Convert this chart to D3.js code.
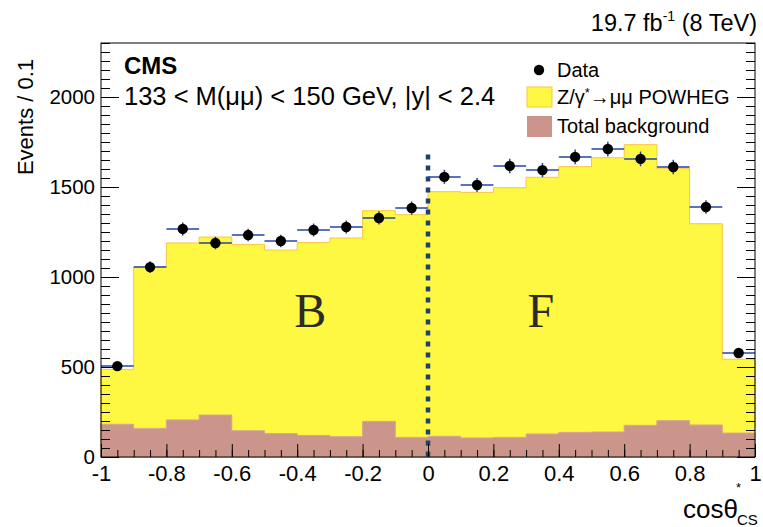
<!DOCTYPE html>
<html>
<head>
<meta charset="utf-8">
<script src="https://cdn.jsdelivr.net/npm/d3@7"></script>
<style>
    body { margin: 0; background: #fff; }
    text { font-family: "Liberation Sans", Arial, sans-serif; fill: #000; }
</style>
</head>
<body>
<div id="chart"></div>
<script>
// bin edges of cos theta*_CS, 20 bins of 0.1
var binLow = [-1, -0.9, -0.8, -0.7, -0.6, -0.5, -0.4, -0.3, -0.2, -0.1,
              0, 0.1, 0.2, 0.3, 0.4, 0.5, 0.6, 0.7, 0.8, 0.9];
var binWidth = 0.1;

// data points and their stat errors
var dataVals = [505, 1055, 1267, 1189, 1233, 1200, 1261, 1278, 1328, 1383,
                1556, 1511, 1617, 1594, 1667, 1711, 1656, 1611, 1389, 578];
var dataErr  = [23, 33, 36, 35, 35, 35, 36, 36, 37, 37,
                39, 39, 40, 40, 41, 41, 41, 40, 37, 24];

// stacked MC: Z/gamma* -> mumu on top of total background
var stackTop = [487, 1055, 1189, 1222, 1181, 1150, 1191, 1217, 1368, 1346,
                1474, 1470, 1496, 1554, 1613, 1663, 1735, 1604, 1296, 543];
var bkgVals  = [182, 159, 206, 233, 146, 130, 120, 113, 198, 109,
                115, 106, 109, 128, 137, 139, 176, 202, 178, 133];

var xTicks = [-1, -0.8, -0.6, -0.4, -0.2, 0, 0.2, 0.4, 0.6, 0.8, 1];
var yTicks = [0, 500, 1000, 1500, 2000];

var W = 763, H = 527;
var margin = {top: 43, right: 8, bottom: 70, left: 101};
var width = W - margin.left - margin.right,
    height = H - margin.top - margin.bottom;

var x = d3.scaleLinear().domain([-1, 1]).range([0, width]);
var y = d3.scaleLinear().domain([0, 2300]).range([height, 0]);

var svg = d3.select("#chart").append("svg")
    .attr("width", W).attr("height", H);
var g = svg.append("g")
    .attr("transform", "translate(" + margin.left + "," + margin.top + ")");

// step path for a histogram
function stepPath(vals) {
    var p = d3.path();
    p.moveTo(x(binLow[0]), y(0));
    vals.forEach(function(v, i) {
        p.lineTo(x(binLow[i]), y(v));
        p.lineTo(x(binLow[i] + binWidth), y(v));
    });
    p.lineTo(x(binLow[binLow.length - 1] + binWidth), y(0));
    p.closePath();
    return p.toString();
}

g.append("path").attr("d", stepPath(stackTop))
    .attr("fill", "#fff842").attr("stroke", "#f7c640").attr("stroke-width", 1);
g.append("path").attr("d", stepPath(bkgVals))
    .attr("fill", "#cc958c").attr("stroke", "#d7a590").attr("stroke-width", 1);

// B / F labels
g.append("text").attr("x", x(-0.36)).attr("y", y(720))
    .attr("text-anchor", "middle").style("font-family", "'Liberation Serif', serif")
    .style("font-size", "48px").style("fill", "#2b2b2b").text("B");
g.append("text").attr("x", x(0.345)).attr("y", y(720))
    .attr("text-anchor", "middle").style("font-family", "'Liberation Serif', serif")
    .style("font-size", "48px").style("fill", "#2b2b2b").text("F");

// dotted separator at 0
g.append("line").attr("x1", x(0)).attr("x2", x(0))
    .attr("y1", y(1680)).attr("y2", y(0))
    .attr("stroke", "#1d426f").attr("stroke-width", 4.5)
    .attr("stroke-dasharray", "5,6");

// data: horizontal bin-width bars, vertical stat errors, markers
var pts = g.selectAll(".pt").data(dataVals).enter().append("g").attr("class", "pt");
pts.append("line")
    .attr("x1", function(d, i) { return x(binLow[i]); })
    .attr("x2", function(d, i) { return x(binLow[i] + binWidth); })
    .attr("y1", function(d) { return y(d); })
    .attr("y2", function(d) { return y(d); })
    .attr("stroke", "#2244aa").attr("stroke-width", 1.5);
pts.append("line")
    .attr("x1", function(d, i) { return x(binLow[i] + binWidth / 2); })
    .attr("x2", function(d, i) { return x(binLow[i] + binWidth / 2); })
    .attr("y1", function(d, i) { return y(d - dataErr[i]); })
    .attr("y2", function(d, i) { return y(d + dataErr[i]); })
    .attr("stroke", "#2244aa").attr("stroke-width", 1.5);
pts.append("circle")
    .attr("cx", function(d, i) { return x(binLow[i] + binWidth / 2); })
    .attr("cy", function(d) { return y(d); })
    .attr("r", 5.2).attr("fill", "#000");

// axes
function styleAxis(size) {
    return function(sel) {
        sel.select(".domain").remove();
        sel.selectAll("line").attr("stroke", "#000");
        sel.selectAll("text").style("font-size", size)
            .style("font-family", "'Liberation Sans', Arial, sans-serif");
    };
}
// plain hyphen minus like ROOT
var fmtX = function(d) { return String(+d.toFixed(1)); };

g.append("g").attr("transform", "translate(0," + height + ")")
    .call(d3.axisBottom(x).tickValues(d3.range(-1, 1.0001, 0.05)).tickSize(-7).tickFormat(""))
    .call(styleAxis("20px"));
g.append("g").attr("transform", "translate(0," + height + ")")
    .call(d3.axisBottom(x).tickValues(xTicks).tickSize(-13).tickPadding(8).tickFormat(fmtX))
    .call(styleAxis("22px"));

g.append("g")
    .call(d3.axisLeft(y).tickValues(d3.range(0, 2301, 50)).tickSize(-9).tickFormat(""))
    .call(styleAxis("20px"));
g.append("g")
    .call(d3.axisLeft(y).tickValues(yTicks).tickSize(-18).tickPadding(6).tickFormat(d3.format("d")))
    .call(styleAxis("20.5px"));
g.append("g").attr("transform", "translate(" + width + ",0)")
    .call(d3.axisRight(y).tickValues(d3.range(0, 2301, 50)).tickSize(-9).tickFormat(""))
    .call(styleAxis("20px"));
g.append("g").attr("transform", "translate(" + width + ",0)")
    .call(d3.axisRight(y).tickValues(yTicks).tickSize(-18).tickFormat(""))
    .call(styleAxis("20px"));

// frame
g.append("rect").attr("width", width).attr("height", height)
    .attr("fill", "none").attr("stroke", "#000").attr("stroke-width", 1);

// axis titles
svg.append("text").attr("transform", "translate(33,117) rotate(-90)")
    .attr("text-anchor", "middle").style("font-size", "22px").text("Events / 0.1");
svg.append("text").attr("x", 683).attr("y", 518)
    .style("font-size", "26px").text("cos\u03b8");
svg.append("text").attr("x", 736).attr("y", 492)
    .style("font-size", "13px").text("*");
svg.append("text").attr("x", 737).attr("y", 525)
    .style("font-size", "15px").text("CS");

// top labels
var lumi = svg.append("text").attr("x", 757).attr("y", 31)
    .attr("text-anchor", "end").style("font-size", "23.5px");
lumi.append("tspan").text("19.7 fb");
lumi.append("tspan").attr("dy", -10).style("font-size", "14px").text("-1");
lumi.append("tspan").attr("dy", 10).text(" (8 TeV)");

svg.append("text").attr("x", 124).attr("y", 74)
    .style("font-size", "24px").style("font-weight", "bold").text("CMS");
svg.append("text").attr("x", 124).attr("y", 105)
    .style("font-size", "25.5px").text("133 < M(\u03bc\u03bc) < 150 GeV, |y| < 2.4");

// legend
var leg = svg.append("g");
leg.append("circle").attr("cx", 539).attr("cy", 70).attr("r", 5.2).attr("fill", "#000");
leg.append("text").attr("x", 557).attr("y", 77).style("font-size", "20px").text("Data");
leg.append("rect").attr("x", 527).attr("y", 87).attr("width", 25).attr("height", 20)
    .attr("fill", "#fff842").attr("stroke", "#f7c640");
var zl = leg.append("text").attr("x", 557).attr("y", 104).style("font-size", "20px");
zl.append("tspan").text("Z/\u03b3");
zl.append("tspan").attr("dy", -7).style("font-size", "13px").text("*");
zl.append("tspan").attr("dy", 7).text("\u2192\u03bc\u03bc POWHEG");
leg.append("rect").attr("x", 527).attr("y", 116).attr("width", 25).attr("height", 21)
    .attr("fill", "#cc958c");
leg.append("text").attr("x", 557).attr("y", 133).style("font-size", "20px").text("Total background");
</script>
</body>
</html>
